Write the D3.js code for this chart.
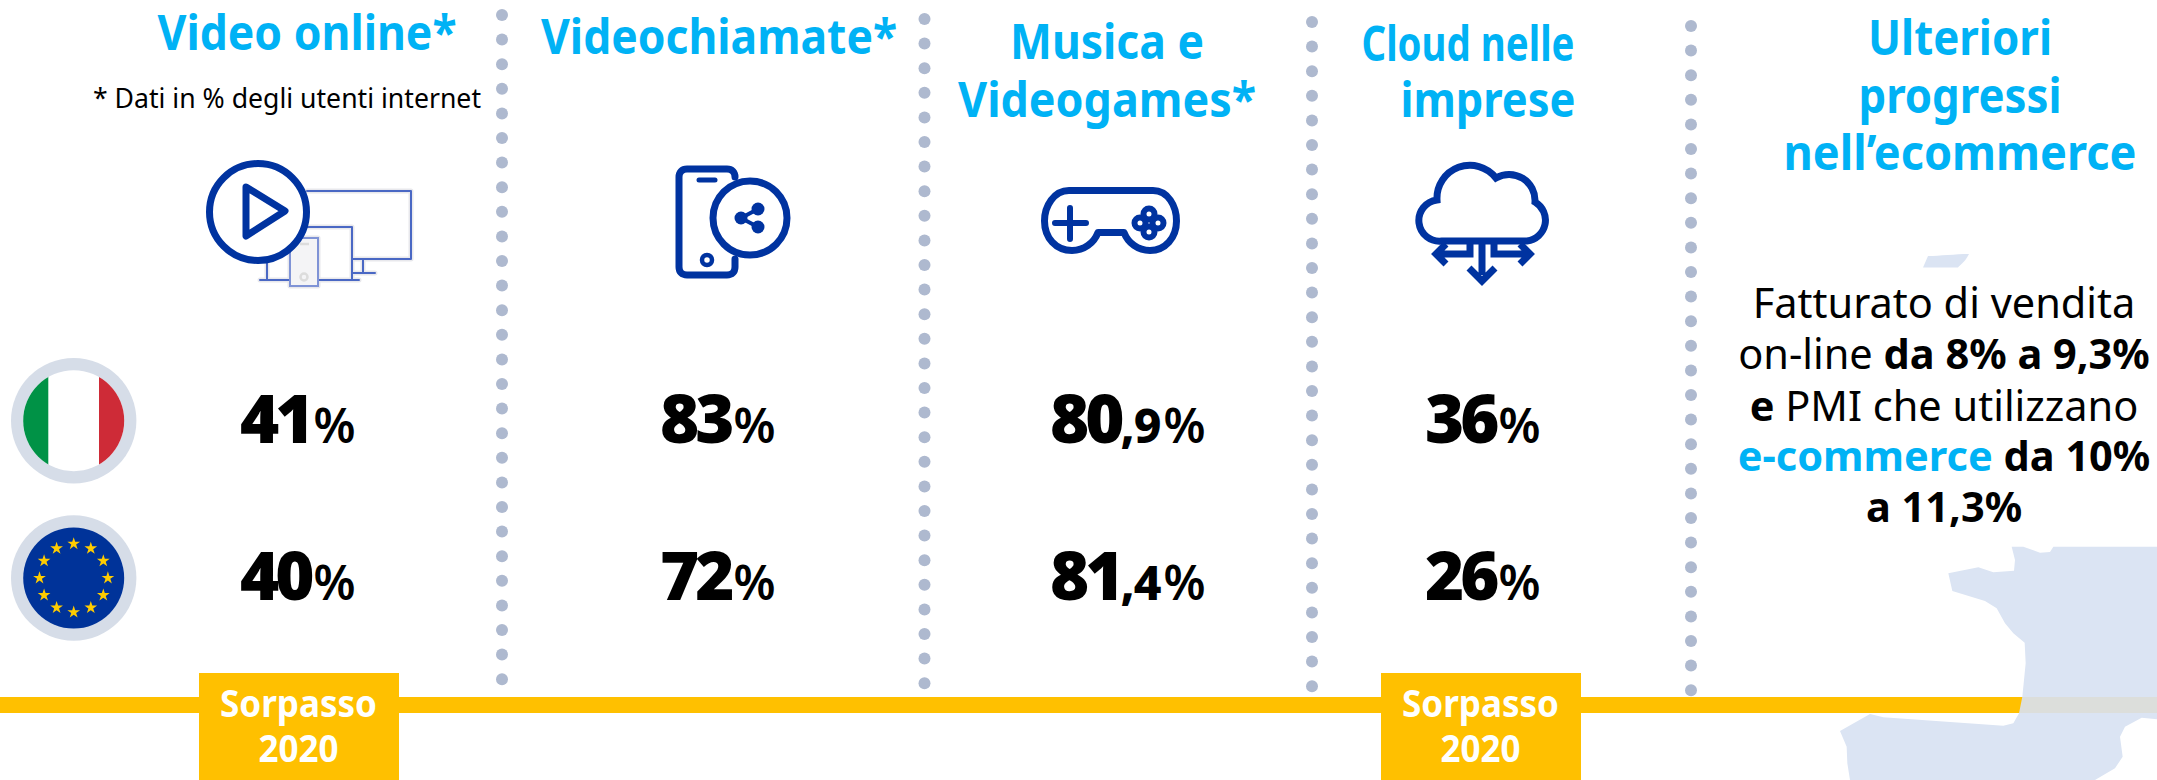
<!DOCTYPE html>
<html>
<head>
<meta charset="utf-8">
<script src="https://cdn.jsdelivr.net/npm/d3@7"></script>
<style>
    html, body { margin: 0; padding: 0; background: #fff; }
    svg { display: block; font-family: "Noto Sans", sans-serif; }
</style>
</head>
<body>
<div id="chart"></div>
<script>
// data
const categories = ["Video online*", "Videochiamate*", "Musica e Videogames*", "Cloud nelle imprese"]
const italyValues = [41, 83, 80.9, 36]
const euValues = [40, 72, 81.4, 26]
const titleLines = [["Video online*"], ["Videochiamate*"], ["Musica e", "Videogames*"], ["Cloud nelle", "imprese"], ["Ulteriori", "progressi", "nell’ecommerce"]]
const footnote = "* Dati in % degli utenti internet"
const sorpassoColumns = ["Video online*", "Cloud nelle imprese"]
const sorpassoLabel = ["Sorpasso", "2020"]

const w = 2157
const h = 780
const blue = "#00b2f5"
const navy = "#0033a0"
const yellow = "#ffc000"

const svg = d3.select("#chart").append("svg").attr("width", w).attr("height", h)

// layout scales, columns are not evenly spaced in the original
const xValue = d3.scaleOrdinal(categories, [240, 660, 1050, 1425])
const yRow = d3.scaleOrdinal(["it", "eu"], [443, 600])
const xBox = d3.scaleOrdinal(categories, [199, 0, 0, 1381])

// france in the background
const francePts = [[575, 50], [585, 90], [582, 122], [520, 127], [475, 112], [385, 130], [397, 183], [495, 213], [530, 235], [555, 280], [580, 310], [614, 338], [617, 400], [607, 500], [597, 550], [580, 580], [550, 587], [380, 575], [190, 562], [150, 552], [60, 603], [80, 650], [82, 700], [90, 750], [825, 750], [885, 715], [908, 680], [900, 620], [915, 590], [965, 563], [1011, 568], [1011, 50], [700, 50], [690, 66], [660, 68], [610, 50]]
const franceLine = d3.line().x(d => 1820 + d[0] / 3).y(d => 530 + d[1] / 3)

svg.append("clipPath").attr("id", "franceClip").append("path").attr("d", franceLine(francePts) + "Z")
svg.append("path").attr("d", franceLine(francePts) + "Z").attr("fill", "#dbe4f3")
svg.append("path").attr("d", "M1923 267.5L1928 256C1940 256 1955 254 1969 254C1965 262 1960 265 1958 267.5Z").attr("fill", "#dbe4f3")

// yellow line
svg.append("rect").attr("x", 0).attr("y", 697).attr("width", w).attr("height", 16).attr("fill", yellow)
svg.append("rect").attr("x", 0).attr("y", 697).attr("width", w).attr("height", 16).attr("fill", "#dcdedb").attr("clip-path", "url(#franceClip)")

// dotted separators
const separators = [[502, 15], [924.5, 19], [1312, 22], [1691, 26]]
separators.forEach(s => {
    svg.append("g").selectAll("circle")
        .data(d3.range(28))
        .enter()
        .append("circle")
        .attr("cx", s[0])
        .attr("cy", i => s[1] + i * 24.6)
        .attr("r", 6)
        .attr("fill", "#aeb9cf")
})

// titles, each line is [x centre, baseline, width]
const titlePos = [
    [[307, 50, 299]],
    [[719, 54, 356]],
    [[1107, 59, 194], [1107, 117, 298]],
    [[1468, 61, 213], [1488, 117, 175]],
    [[1960, 55, 184], [1960, 113, 203], [1960, 170, 353]]
]
titleLines.forEach((lines, i) => {
    svg.append("g").selectAll("text")
        .data(lines)
        .enter()
        .append("text")
        .attr("x", (d, j) => titlePos[i][j][0])
        .attr("y", (d, j) => titlePos[i][j][1])
        .attr("textLength", (d, j) => titlePos[i][j][2])
        .attr("lengthAdjust", "spacingAndGlyphs")
        .attr("text-anchor", "middle")
        .attr("font-size", 48)
        .attr("font-weight", 700)
        .attr("fill", blue)
        .text(d => d)
})

svg.append("text")
    .attr("x", 287).attr("y", 108)
    .attr("text-anchor", "middle")
    .attr("font-size", 28)
    .attr("textLength", 388)
    .attr("lengthAdjust", "spacingAndGlyphs")
    .attr("fill", "#000")
    .text(footnote)

// values
const drawValues = (values, row) => {
    const rowText = svg.append("g").selectAll("text")
        .data(values)
        .enter()
        .append("text")
        .attr("x", (d, i) => xValue(categories[i]))
        .attr("y", yRow(row))
    rowText.append("tspan")
        .attr("font-size", 67)
        .attr("font-weight", 900)
        .attr("letter-spacing", -4)
        .text(d => Math.floor(d))
    rowText.filter(d => d % 1 !== 0).append("tspan")
        .attr("font-size", 48)
        .attr("font-weight", 800)
        .attr("letter-spacing", -1)
        .text(d => "," + String(d).split(".")[1])
    rowText.append("tspan")
        .attr("font-size", 48)
        .attr("font-weight", 600)
        .attr("dx", 3)
        .text("%")
}
drawValues(italyValues, "it")
drawValues(euValues, "eu")

// flags
const ring = "#d6dde8"
const flagX = 73.7
const yFlag = d3.scaleOrdinal(["it", "eu"], [420.7, 578])
svg.append("clipPath").attr("id", "itClip").append("circle").attr("cx", flagX).attr("cy", yFlag("it")).attr("r", 50.5)
yFlag.domain().forEach(k => {
    svg.append("circle").attr("cx", flagX).attr("cy", yFlag(k)).attr("r", 62.7).attr("fill", ring)
})
const itFlag = svg.append("g").attr("clip-path", "url(#itClip)")
itFlag.append("rect").attr("x", 23).attr("y", 370).attr("width", 102).attr("height", 102).attr("fill", "#fff")
itFlag.append("rect").attr("x", 23).attr("y", 370).attr("width", 25.3).attr("height", 102).attr("fill", "#009246")
itFlag.append("rect").attr("x", 99).attr("y", 370).attr("width", 26).attr("height", 102).attr("fill", "#ce2b37")

svg.append("circle").attr("cx", flagX).attr("cy", yFlag("eu")).attr("r", 50.5).attr("fill", "#003399")
svg.append("g").selectAll("path")
    .data(d3.range(12))
    .enter()
    .append("path")
    .attr("d", d3.symbol(d3.symbolStar, 50))
    .attr("fill", "#ffcc00")
    .attr("transform", i => {
        const a = i * Math.PI / 6
        return "translate(" + (flagX + 34.2 * Math.sin(a)) + "," + (yFlag("eu") - 34.2 * Math.cos(a)) + ")"
    })

// sorpasso boxes
const sorpassoWidths = [157, 80]
sorpassoColumns.forEach(c => {
    const x = xBox(c)
    svg.append("rect").attr("x", x).attr("y", 673).attr("width", 200).attr("height", 107).attr("fill", yellow)
    svg.append("g").selectAll("text")
        .data(sorpassoLabel)
        .enter()
        .append("text")
        .attr("x", x + 99.5)
        .attr("y", (d, i) => i === 0 ? 717 : 762)
        .attr("text-anchor", "middle")
        .attr("font-size", 38)
        .attr("font-weight", 700)
        .attr("textLength", (d, i) => sorpassoWidths[i])
        .attr("lengthAdjust", "spacingAndGlyphs")
        .attr("fill", "#fff")
        .text(d => d)
})

// right text
const rightText = svg.append("g").attr("text-anchor", "middle").attr("font-size", 41.5).attr("fill", "#000")
const rightLines = [
    [["Fatturato di vendita", 400, "#000"]],
    [["on-line ", 400, "#000"], ["da 8% a 9,3%", 700, "#000"]],
    [["e", 700, "#000"], [" PMI che utilizzano", 400, "#000"]],
    [["e-commerce", 700, blue], [" da 10%", 700, "#000"]],
    [["a 11,3%", 700, "#000"]]
]
const rightY = [318, 369, 421, 471, 522]
rightLines.forEach((parts, i) => {
    const t = rightText.append("text").attr("x", 1944).attr("y", rightY[i])
    parts.forEach(p => {
        t.append("tspan").attr("font-weight", p[1]).attr("fill", p[2]).text(p[0])
    })
})

// icons
const stroke = (g, sw, col) => g.append("g").attr("fill", "none").attr("stroke", col).attr("stroke-width", sw)
    .attr("stroke-linecap", "round").attr("stroke-linejoin", "round")

// video devices
const devicesHalo = stroke(svg, 5, "#e8e8ec")
const devices = stroke(svg, 2, "#4a68c4")
const devPaths = ["M307 191H411V259H353M363 259V273M353 273H375", "M307 227H352V280M267 262V280M260 280H359"]
devPaths.forEach(d => {
    devicesHalo.append("path").attr("d", d)
    devices.append("path").attr("d", d)
})
devicesHalo.append("rect").attr("x", 290).attr("y", 238).attr("width", 28).attr("height", 48)
svg.append("rect").attr("x", 290).attr("y", 238).attr("width", 28).attr("height", 48).attr("fill", "#f4f4f6").attr("stroke", "#7f93d6").attr("stroke-width", 2)
svg.append("circle").attr("cx", 304).attr("cy", 277).attr("r", 3.5).attr("fill", "none").attr("stroke", "#dcdcdc").attr("stroke-width", 2.5)
svg.append("path").attr("d", "M300 244H309").attr("stroke", "#dcdcdc").attr("stroke-width", 2.5)
const play = stroke(svg, 7, navy)
play.append("circle").attr("cx", 258).attr("cy", 212).attr("r", 48.5).attr("fill", "#fff")
play.append("path").attr("d", "M246 187L285 211L246 236Z")

// phone
const phone = stroke(svg, 7, navy)
phone.append("path").attr("d", "M735 177C735 172 732 169 727 169H687C682 169 679 172 679 177V267C679 272 682 275 687 275H727C732 275 735 272 735 267V259")
phone.append("path").attr("d", "M699 180H715").attr("stroke-width", 5)
phone.append("circle").attr("cx", 707).attr("cy", 260).attr("r", 5).attr("stroke-width", 4.5)
phone.append("circle").attr("cx", 750).attr("cy", 218).attr("r", 37)
const share = [[758, 209], [741, 218], [758, 227]]
phone.append("path").attr("d", d3.line()(share)).attr("stroke-width", 4)
svg.append("g").selectAll("circle")
    .data(share)
    .enter()
    .append("circle")
    .attr("cx", d => d[0]).attr("cy", d => d[1]).attr("r", 6.5).attr("fill", navy)

// gamepad
const pad = stroke(svg, 7, navy)
pad.append("path").attr("d", "M1069 190.5H1153C1168 190.5 1176.5 206 1176.5 221C1176.5 238 1165 250.5 1150 250.5C1138 250.5 1128 243 1124 232.5H1098C1094 243 1084 250.5 1072 250.5C1056 250.5 1044.5 238 1044.5 221C1044.5 206 1054 190.5 1069 190.5Z")
pad.append("path").attr("d", "M1055 223H1086M1070 208V239").attr("stroke-width", 6)
const clover = stroke(svg, 6, navy)
const cloverPts = [[1149, 214], [1140, 223], [1158, 223], [1149, 232]]
cloverPts.forEach(p => clover.append("circle").attr("cx", p[0]).attr("cy", p[1]).attr("r", 5.5))

// cloud
const cloud = stroke(svg, 7, navy).attr("stroke-linecap", "butt").attr("stroke-linejoin", "miter")
cloud.append("path").attr("d", "M1442 241H1527A21 21 0 0 0 1535 202A26 26 0 0 0 1496 178A33 33 0 0 0 1437 200A20.6 20.6 0 0 0 1442 241Z")
cloud.append("path").attr("d", "M1482 241V275M1469 268L1482 281L1495 268")
cloud.append("path").attr("d", "M1470 241V254H1436M1446 244L1436 254L1446 264")
cloud.append("path").attr("d", "M1494 241V254H1530M1520 244L1530 254L1520 264")
</script>
</body>
</html>
